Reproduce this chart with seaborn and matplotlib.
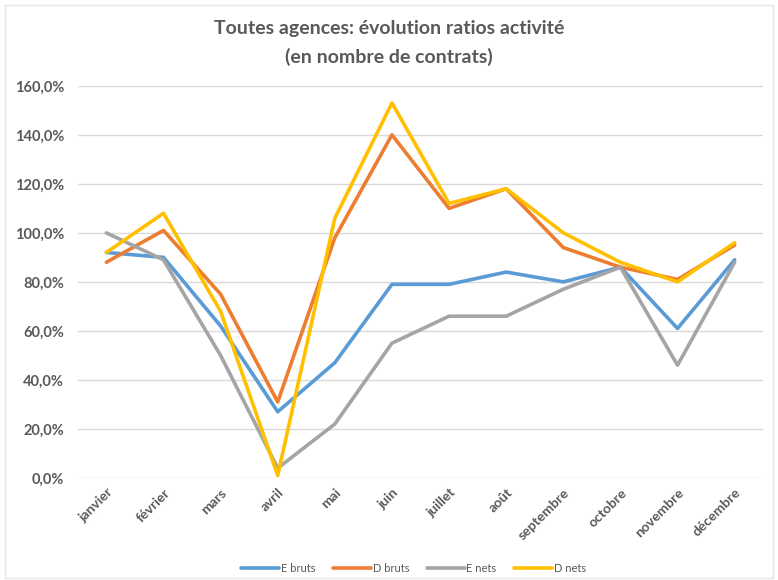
import numpy as np
import pandas as pd
import seaborn as sns
import matplotlib.pyplot as plt
from matplotlib.patches import Rectangle
from matplotlib.ticker import FuncFormatter

mois = ['janvier', 'février', 'mars', 'avril', 'mai', 'juin', 'juillet',
        'août', 'septembre', 'octobre', 'novembre', 'décembre']

# ratios en %
e_bruts = [92, 90, 62, 27, 47, 79, 79, 84, 80, 86, 61, 89]
d_bruts = [88, 101, 75, 31, 98, 140, 110, 118, 94, 86, 81, 95]
e_nets = [100, 89, 50, 4, 22, 55, 66, 66, 77, 86, 46, 88]
d_nets = [92, 108, 68, 1, 106, 153, 112, 118, 100, 88, 80, 96]

series = ['E bruts', 'D bruts', 'E nets', 'D nets']
couleurs = ['#5B9BD5', '#ED7D31', '#A5A5A5', '#FFC000']

df = pd.DataFrame({
    'mois': mois * 4,
    'ratio': e_bruts + d_bruts + e_nets + d_nets,
    'serie': np.repeat(series, len(mois)),
})

sns.set_theme(style='white')
plt.rcParams['font.family'] = ['Lato', 'DejaVu Sans']
gris = '#595959'

fig = plt.figure(figsize=(7.78, 5.80), dpi=100)
ax = fig.add_axes([0.100, 0.176, 0.881, 0.676])

sns.lineplot(data=df, x='mois', y='ratio', hue='serie', palette=couleurs,
             hue_order=series, sort=False, linewidth=2.6, ax=ax, legend=True)

ax.set_xlim(-0.5, 11.5)
ax.set_ylim(0, 160)
ax.set_yticks(np.arange(0, 161, 20))
ax.yaxis.set_major_formatter(FuncFormatter(lambda v, p: f'{v:.1f}%'.replace('.', ',')))
ax.grid(axis='y', color='#D9D9D9', linewidth=1)
ax.set_axisbelow(True)
for s in ax.spines.values():
    s.set_visible(False)
ax.set_xlabel('')
ax.set_ylabel('')
ax.tick_params(axis='y', labelsize=10.5, labelcolor=gris, pad=10, length=0)
ax.tick_params(axis='x', labelsize=10, labelcolor=gris, length=0, pad=6)
for lab in ax.get_yticklabels():
    lab.set_fontweight('bold')
for lab in ax.get_xticklabels():
    lab.set_rotation(45)
    lab.set_ha('right')
    lab.set_rotation_mode('anchor')
    lab.set_fontweight('bold')

leg = ax.legend(loc='lower center', bbox_to_anchor=(0.49, -0.27), ncol=4,
                frameon=False, fontsize=8, handlelength=3.4, handletextpad=0.15,
                columnspacing=1.6)
for t in leg.get_texts():
    t.set_color(gris)

fig.text(0.5, 0.951, 'Toutes agences: évolution ratios activité',
         ha='center', va='center', fontsize=14, fontweight='bold', color=gris)
fig.text(0.5, 0.901, '(en nombre de contrats)',
         ha='center', va='center', fontsize=14, fontweight='bold', color=gris)

fig.patches.append(Rectangle((0.006, 0.004), 0.988, 0.988, transform=fig.transFigure,
                             fill=False, edgecolor='#E6E6E6', linewidth=1))

fig.savefig('out.png', dpi=100)
